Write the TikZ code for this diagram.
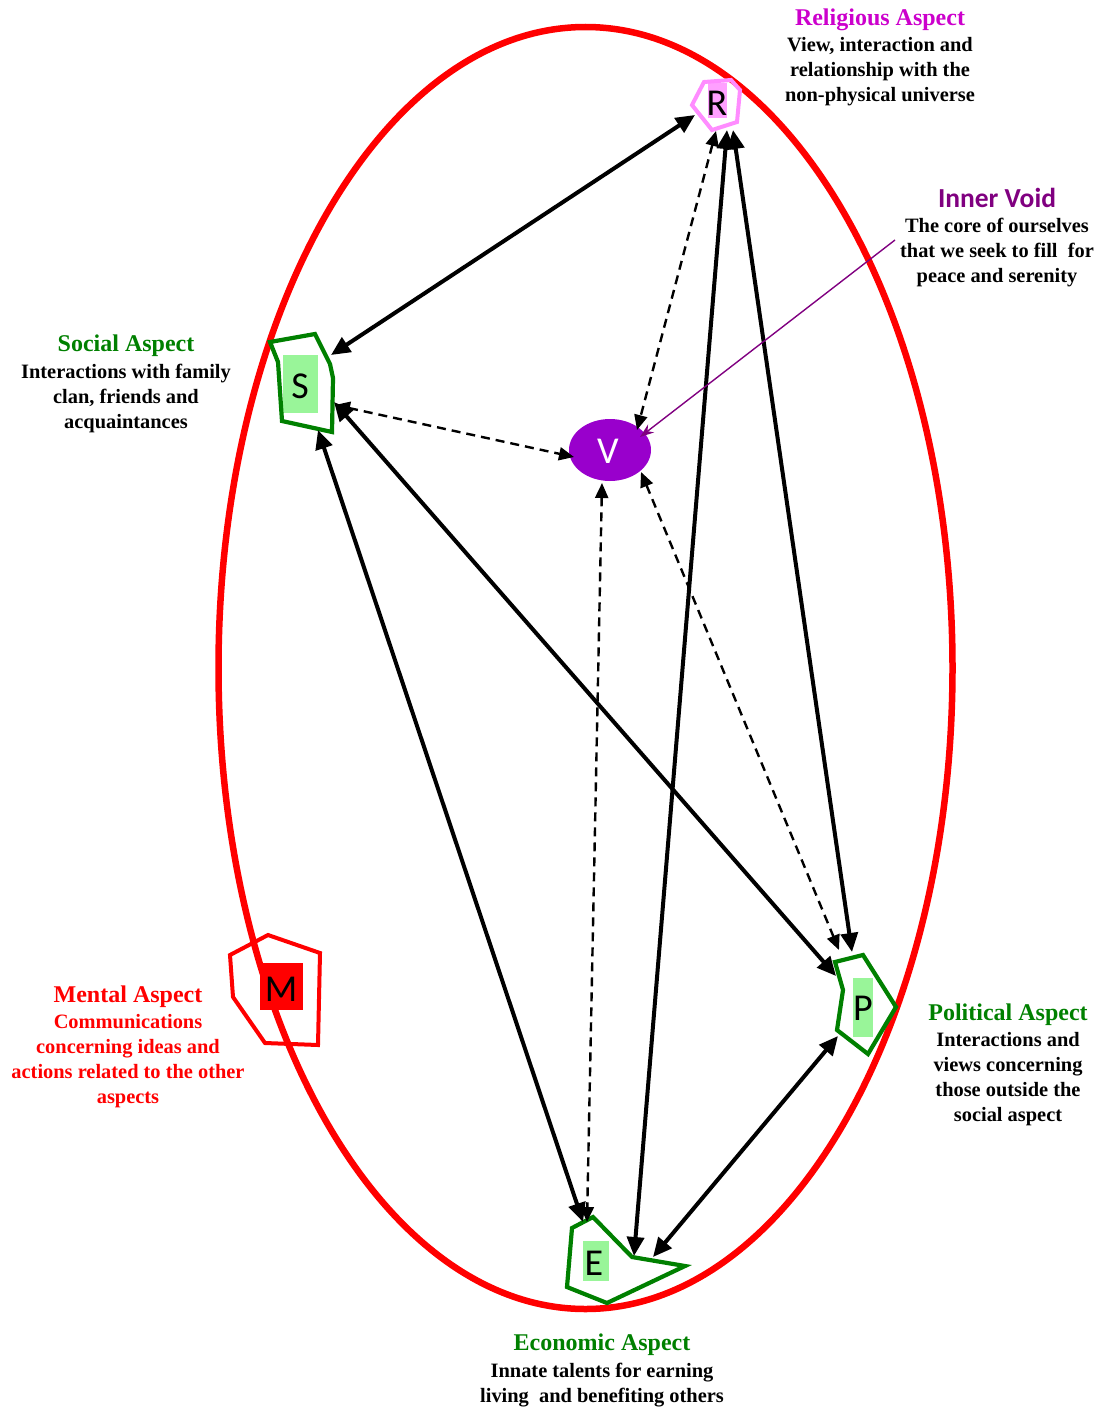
\documentclass[tikz,border=0pt]{standalone}
\usepackage{fontspec}
\setmainfont{Liberation Serif}
\newfontfamily\calib{Carlito}
\usetikzlibrary{arrows.meta,shapes.geometric}
\definecolor{dgreen}{RGB}{0,128,0}
\definecolor{lgreen}{RGB}{153,245,153}
\definecolor{rpink}{RGB}{255,140,255}
\definecolor{rfill}{RGB}{255,160,255}
\definecolor{magt}{RGB}{204,0,204}
\definecolor{vpurp}{RGB}{153,0,204}
\definecolor{ivtext}{RGB}{128,0,128}
\definecolor{mred}{RGB}{255,0,0}
\tikzset{
  solidarr/.style={line width=4pt,{Triangle[length=19pt,width=17pt]}-{Triangle[length=19pt,width=17pt]}},
  dasharr/.style={line width=2.4pt,dash pattern=on 9pt off 6pt,{Triangle[length=15pt,width=13pt]}-{Triangle[length=15pt,width=13pt]}},
  greenpoly/.style={draw=dgreen,line width=4.2pt,line join=miter},
  letter/.style={font=\calib\fontsize{38}{38}\selectfont,inner sep=0pt},
  ttl/.style={font=\bfseries\fontsize{24}{25}\selectfont,align=center,inner sep=0pt},
  body/.style={font=\bfseries\fontsize{20.4}{25}\selectfont,align=center,inner sep=0pt},
}
\begin{document}
\begin{tikzpicture}[x=1pt,y=-1pt]
\useasboundingbox (0,0) rectangle (1099,1410);
% big ellipse
\draw[mred,line width=6.5pt] (585.5,668) ellipse [x radius=367, y radius=641];

% R
\fill[rfill] (708,83) rectangle (727,118);
\draw[rpink,line width=4pt] (704,82) -- (731,80) -- (740,90) -- (737,122) -- (712,130) -- (692,105) -- cycle;
\node[letter] (R) at (717,103) {R};

% S
\fill[lgreen] (283,355) rectangle (318,413);
\draw[greenpoly] (270,342) -- (315,334) -- (330,364) -- (333,378) -- (332,432) -- (282,421) -- (278,362) -- cycle;
\node[letter] (S) at (300,386) {S};

% M
\draw[mred,line width=4pt] (230,955) -- (268,935) -- (320,953) -- (318,1045) -- (265,1043) -- (233,997) -- cycle;
\fill[mred] (260,963) rectangle (303,1010);
\node[letter] (M) at (281,989) {M};

% P
\fill[lgreen] (853,978) rectangle (873,1037);
\draw[greenpoly] (835,962) -- (863,955) -- (896,1007) -- (868,1054) -- (837,1030) -- (843,990) -- cycle;
\node[letter] (P) at (863,1008) {P};

% E
\fill[lgreen] (583,1241) rectangle (609,1281);
\draw[greenpoly] (572,1228) -- (593,1217) -- (632,1257) -- (685,1266) -- (607,1303) -- (567,1287) -- cycle;
\node[letter] (E) at (594,1263) {E};

% V
\node[ellipse,fill=vpurp,minimum width=82pt,minimum height=62pt,inner sep=0pt] (Vb) at (610,450) {};
\node[letter,text=white] (V) at (608,451) {V};

% endpoints
\coordinate (SR) at (331,355);
\coordinate (RS) at (695,115);
\coordinate (RP) at (733,130);
\coordinate (PR) at (852,952);
\coordinate (RE) at (727,130);
\coordinate (ER) at (634,1256);
\coordinate (SP) at (334,402);
\coordinate (PS) at (836,976);
\coordinate (SE) at (318,430);
\coordinate (ES) at (583,1222);
\coordinate (EP) at (653,1257);
\coordinate (PE) at (838,1036);
\coordinate (RV) at (716,131);
\coordinate (VR) at (637,430);
\coordinate (SV) at (335,405);
\coordinate (VS) at (574,457);
\coordinate (VE) at (602,483);
\coordinate (EV) at (587,1222);
\coordinate (VP) at (641,472);
\coordinate (PV) at (839,950);
\coordinate (IVs) at (895,240);
\coordinate (IVe) at (640,437);

% solid connectors
\draw[solidarr] (SR) -- (RS);
\draw[solidarr] (RP) -- (PR);
\draw[solidarr] (RE) -- (ER);
\draw[solidarr] (SP) -- (PS);
\draw[solidarr] (SE) -- (ES);
\draw[solidarr] (EP) -- (PE);
% dashed connectors
\draw[dasharr] (RV) -- (VR);
\draw[dasharr] (SV) -- (VS);
\draw[dasharr] (VE) -- (EV);
\draw[dasharr] (VP) -- (PV);
% inner void pointer
\draw[ivtext,line width=1.4pt,-{Stealth[length=14pt,width=10pt]}] (IVs) -- (IVe);

% labels
\node[ttl,text=magt] (tR) at (880,20) {Religious Aspect};
\node[body] (bR) at (880,72) {View, interaction and\\relationship with the\\non-physical universe};

\node[font=\calib\bfseries\fontsize{27.5}{25}\selectfont,text=ivtext,inner sep=0pt] (tV) at (997,198) {Inner Void};
\node[body] (bV) at (997,253) {The core of ourselves\\that we seek to fill\ \ for\\peace and serenity};

\node[ttl,text=dgreen] (tS) at (126,346) {Social Aspect};
\node[body] (bS) at (126,398) {Interactions with family\\clan, friends and\\acquaintances};

\node[ttl,text=mred] (tM) at (128,997) {Mental Aspect};
\node[body,text=mred] (bM) at (128,1061.5) {Communications\\concerning ideas and\\actions related to the other\\aspects};

\node[ttl,text=dgreen] (tP) at (1008,1015) {Political Aspect};
\node[body] (bP) at (1008,1079.5) {Interactions and\\views concerning\\those outside the\\social aspect};

\node[ttl,text=dgreen] (tE) at (602,1345) {Economic Aspect};
\node[body] (bE) at (602,1385) {Innate talents for earning\\living\ \ and benefiting others};
\end{tikzpicture}
\end{document}
